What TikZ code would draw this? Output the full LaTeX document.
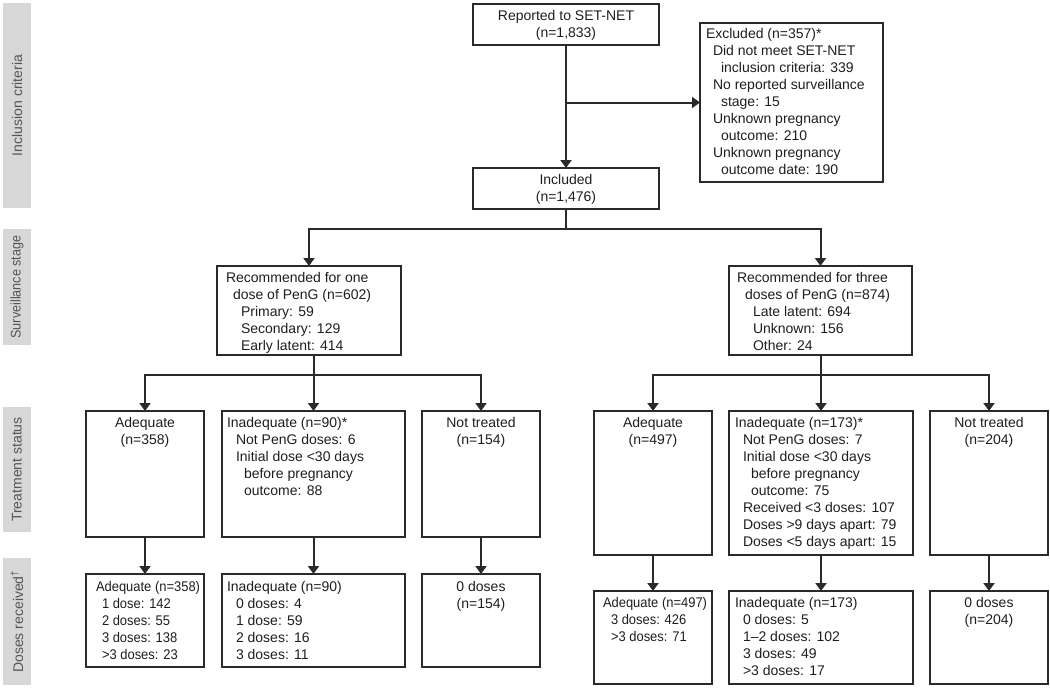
\documentclass[tikz,border=0pt]{standalone}
\usepackage{fontspec}
\setmainfont{Liberation Sans}
\usepackage{graphicx}
\usetikzlibrary{arrows.meta,calc}
\definecolor{ink}{HTML}{1E1E1E}
\definecolor{edge}{HTML}{2A2A2A}
\definecolor{barfill}{HTML}{D7D7D7}
\definecolor{bartext}{HTML}{555555}
\newcommand{\myline}[2]{\hspace*{#1pt}#2\par}
\newcommand{\cond}[1]{\scalebox{0.925}[1]{#1}}
\newcommand{\boxin}[4]{\parbox[c][#2pt][t]{#1pt}{\parindent0pt\raggedright\rule{0pt}{#3pt}#4}}
\newcommand{\boxc}[4]{\parbox[c][#2pt][t]{#1pt}{\parindent0pt\centering\rule{0pt}{#3pt}#4}}
\tikzset{
  bx/.style={draw=edge, line width=2pt, inner sep=0pt, outer sep=0pt, anchor=north west, text=ink, font=\fontsize{14}{17}\selectfont},
  barbox/.style={fill=barfill, draw=none, rotate=90, inner sep=0pt, minimum height=28pt, text=bartext, font=\fontsize{14}{17}\selectfont},
  ln/.style={draw=edge, line width=2pt},
  arr/.style={draw=edge, line width=2pt, -{Triangle[width=11pt,length=8pt]}}
}
\begin{document}
\begin{tikzpicture}[x=1pt,y=-1pt]
\useasboundingbox (0,0) rectangle (1050,688);
% side bars
\node[barbox, minimum width=205pt] (barI) at (17,105.5) {Inclusion criteria};
\node[barbox, minimum width=116pt] (barS) at (17,287) {\scalebox{0.9}[1]{Surveillance stage}};
\node[barbox, minimum width=125pt] (barT) at (17,469.5) {Treatment status};
\node[barbox, minimum width=127pt] (barD) at (17,621.5) {Doses received\textsuperscript{\textdagger}};
% inclusion
\node[bx] (rep) at (473,4) {\boxc{186}{41}{16.5}{Reported to SET-NET\\(n=1,833)}};
\node[bx] (exc) at (700,23) {\boxin{183}{159}{15}{%
\myline{6}{Excluded (n=357)*}%
\myline{13}{Did not meet SET-NET}%
\myline{21}{inclusion criteria: 339}%
\myline{13}{No reported surveillance}%
\myline{21}{stage: 15}%
\myline{13}{Unknown pregnancy}%
\myline{21}{outcome: 210}%
\myline{13}{Unknown pregnancy}%
\myline{21}{outcome date: 190}}};
\node[bx] (inc) at (473,168) {\boxc{186}{41}{16.5}{Included\\(n=1,476)}};
% surveillance stage
\node[bx] (rec1) at (217,266) {\boxin{184}{89}{16.5}{%
\myline{9}{Recommended for one}%
\myline{16}{dose of PenG (n=602)}%
\myline{24}{Primary: 59}%
\myline{24}{Secondary: 129}%
\myline{24}{Early latent: 414}}};
\node[bx] (rec3) at (729,266) {\boxin{183}{89}{16.5}{%
\myline{8}{Recommended for three}%
\myline{16}{doses of PenG (n=874)}%
\myline{24}{Late latent: 694}%
\myline{24}{Unknown: 156}%
\myline{24}{Other: 24}}};
% treatment status
\node[bx] (adeq1) at (86,411) {\boxc{118}{126}{16.5}{Adequate\\(n=358)}};
\node[bx] (inad1) at (222,411) {\boxin{183}{126}{16.5}{%
\myline{5}{Inadequate (n=90)*}%
\myline{14}{Not PenG doses: 6}%
\myline{14}{Initial dose <30 days}%
\myline{22}{before pregnancy}%
\myline{22}{outcome: 88}}};
\node[bx] (nt1) at (422,411) {\boxc{118}{126}{16.5}{Not treated\\(n=154)}};
\node[bx] (adeq3) at (594,411) {\boxc{118}{144}{16.5}{Adequate\\(n=497)}};
\node[bx] (inad3) at (729,411) {\boxin{184}{144}{16.5}{%
\myline{6}{Inadequate (n=173)*}%
\myline{14}{Not PenG doses: 7}%
\myline{14}{Initial dose <30 days}%
\myline{22}{before pregnancy}%
\myline{22}{outcome: 75}%
\myline{14}{Received <3 doses: 107}%
\myline{14}{Doses >9 days apart: 79}%
\myline{14}{Doses <5 days apart: 15}}};
\node[bx] (nt3) at (930,411) {\boxc{118}{144}{16.5}{Not treated\\(n=204)}};
% doses received
\node[bx] (adeqD1) at (86,574) {\boxin{118}{93}{17.5}{%
\myline{10}{\cond{Adequate (n=358)}}%
\myline{16}{\cond{1 dose: 142}}%
\myline{16}{\cond{2 doses: 55}}%
\myline{16}{\cond{3 doses: 138}}%
\myline{16}{\cond{>3 doses: 23}}}};
\node[bx] (inadD1) at (222,574) {\boxin{183}{93}{17.5}{%
\myline{5}{Inadequate (n=90)}%
\myline{14}{0 doses: 4}%
\myline{14}{1 dose: 59}%
\myline{14}{2 doses: 16}%
\myline{14}{3 doses: 11}}};
\node[bx] (ntD1) at (422,574) {\boxc{118}{93}{17.5}{0 doses\\(n=154)}};
\node[bx] (adeqD3) at (594,591) {\boxin{118}{93}{16.5}{%
\myline{9}{\cond{Adequate (n=497)}}%
\myline{17}{\cond{3 doses: 426}}%
\myline{17}{\cond{>3 doses: 71}}}};
\node[bx] (inadD3) at (729,591) {\boxin{184}{93}{16.5}{%
\myline{6}{Inadequate (n=173)}%
\myline{14}{0 doses: 5}%
\myline{14}{1\textendash 2 doses: 102}%
\myline{14}{3 doses: 49}%
\myline{14}{>3 doses: 17}}};
\node[bx] (ntD3) at (930,591) {\boxc{118}{93}{16.5}{0 doses\\(n=204)}};
% connectors: inclusion
\draw[arr] (rep.south) -- (inc.north);
\draw[arr] (rep.south |- exc.west) -- (exc.west);
\coordinate (bT) at ($(inc.south)+(0,20)$);
\draw[ln] (inc.south) -- (bT);
\draw[arr] (bT) -| (rec1.north);
\draw[arr] (bT) -| (rec3.north);
% left branch
\draw[arr] (rec1.south -| inad1.north) -- (inad1.north);
\coordinate (bL) at ($(inad1.north)+(0,-36)$);
\draw[arr] (bL) -| (adeq1.north);
\draw[arr] (bL) -| (nt1.north);
% right branch
\draw[arr] (rec3.south -| inad3.north) -- (inad3.north);
\coordinate (bR) at ($(inad3.north)+(0,-36)$);
\draw[arr] (bR) -| (adeq3.north);
\draw[arr] (bR) -| (nt3.north);
% treatment to doses
\draw[arr] (adeq1.south) -- (adeqD1.north);
\draw[arr] (inad1.south) -- (inadD1.north);
\draw[arr] (nt1.south) -- (ntD1.north);
\draw[arr] (adeq3.south) -- (adeqD3.north);
\draw[arr] (inad3.south) -- (inadD3.north);
\draw[arr] (nt3.south) -- (ntD3.north);
\end{tikzpicture}
\end{document}
